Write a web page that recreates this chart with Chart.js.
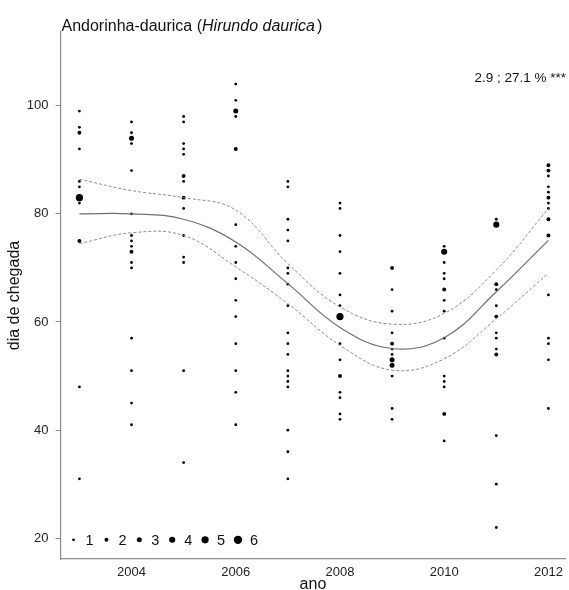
<!DOCTYPE html>
<html>
<head>
<meta charset="utf-8">
<script src="https://cdn.jsdelivr.net/npm/chart.js@4"></script>
<style>
  html, body { margin: 0; padding: 0; background: #fff; overflow: hidden; }
  canvas { display: block; }
</style>
</head>
<body>
<canvas id="c" width="569" height="590"></canvas>
<script>
// ---- data ----
const years = [2003, 2004, 2005, 2006, 2007, 2008, 2009, 2010, 2011, 2012];

const days2003 = [99, 96, 95, 92, 86, 85, 83, 82, 75, 48, 31];
const n2003    = [1, 1, 2, 1, 1, 1, 5, 1, 2, 1, 1];
const days2004 = [97, 95, 94, 93, 88, 80, 76, 75, 74, 73, 71, 70, 57, 51, 45, 41];
const n2004    = [1, 1, 3, 1, 1, 1, 1, 1, 1, 2, 1, 1, 1, 1, 1, 1];
const days2005 = [98, 97, 93, 92, 91, 87, 86, 83, 81, 76, 72, 71, 51, 34];
const n2005    = [1, 1, 1, 1, 1, 2, 1, 2, 1, 1, 1, 1, 1, 1];
const days2006 = [104, 101, 99, 98, 92, 78, 74, 71, 68, 64, 61, 56, 51, 47, 41];
const n2006    = [1, 1, 3, 1, 2, 1, 1, 1, 1, 1, 1, 1, 1, 1, 1];
const days2007 = [86, 85, 79, 77, 75, 70, 69, 67, 63, 58, 56, 54, 51, 50, 49, 48, 40, 36, 31];
const n2007    = [1, 1, 1, 1, 1, 1, 1, 1, 1, 1, 1, 1, 1, 1, 1, 1, 1, 1, 1];
const days2008 = [82, 81, 76, 73, 69, 65, 63, 61, 56, 53, 50, 47, 46, 43, 42];
const n2008    = [1, 1, 1, 1, 1, 1, 1, 5, 1, 1, 2, 1, 1, 1, 1];
const days2009 = [70, 66, 62, 58, 56, 55, 54, 53, 52, 50, 44, 42];
const n2009    = [2, 1, 1, 1, 2, 1, 1, 3, 3, 1, 1, 1];
const days2010 = [74, 73, 71, 69, 68, 66, 64, 62, 57, 50, 49, 48, 43, 38];
const n2010    = [1, 4, 1, 1, 1, 2, 1, 1, 1, 1, 1, 1, 2, 1];
const days2011 = [79, 78, 67, 66, 63, 61, 58, 57, 55, 54, 39, 30, 22];
const n2011    = [1, 4, 2, 1, 1, 2, 1, 1, 1, 2, 1, 1, 1];
const days2012 = [89, 88, 87, 85, 84, 83, 82, 81, 79, 76, 65, 57, 56, 53, 44];
const n2012    = [2, 2, 1, 1, 1, 2, 1, 1, 2, 2, 1, 1, 1, 1, 1];

const fitMid   = [80.0, 80.0, 79.0, 74.8, 67.1, 59.0, 55.1, 57.1, 65.6, 75.1];
const fitUpper = [86.4, 84.3, 83.0, 80.7, 70.8, 62.8, 59.6, 61.6, 69.6, 81.0];
const fitLower = [74.5, 76.5, 76.0, 70.2, 63.4, 55.7, 51.1, 53.2, 60.6, 69.0];

const xTickYears = [2004, 2006, 2008, 2010, 2012];
const yTickValues = [20, 40, 60, 80, 100];
const legendSizes = [1, 2, 3, 4, 5, 6];

const titlePlain = 'Andorinha-daurica (';
const titleItalic = 'Hirundo daurica';
const titleEnd = ')';
const statText = '2.9 ; 27.1 % ***';
const xTitle = 'ano';
const yTitle = 'dia de chegada';

// ---- build ----
const dayLists = [days2003, days2004, days2005, days2006, days2007, days2008, days2009, days2010, days2011, days2012];
const nLists   = [n2003, n2004, n2005, n2006, n2007, n2008, n2009, n2010, n2011, n2012];
const obs = [];
years.forEach((yr, i) => {
  dayLists[i].forEach((d, j) => obs.push({ x: yr, y: d, n: nLists[i][j] }));
});
const radiusFor = n => 0.85 + 0.55 * n;

const FONT = "'Liberation Sans', Arial, sans-serif";
const AXIS_GREY = '#8c8c8c';

const decorPlugin = {
  id: 'decor',
  afterDraw(chart) {
    const ctx = chart.ctx;
    const area = chart.chartArea;
    ctx.save();
    // title
    ctx.fillStyle = '#111';
    ctx.textBaseline = 'alphabetic';
    ctx.textAlign = 'left';
    let tx = area.left + 1;
    const ty = 30.5;
    ctx.font = '16px ' + FONT;
    ctx.fillText(titlePlain, tx, ty);
    tx += ctx.measureText(titlePlain).width;
    ctx.font = 'italic 16px ' + FONT;
    ctx.fillText(titleItalic, tx, ty);
    tx += ctx.measureText(titleItalic).width + 2;
    ctx.font = '16px ' + FONT;
    ctx.fillText(titleEnd, tx, ty);
    // stat annotation
    ctx.font = '13.5px ' + FONT;
    ctx.textAlign = 'right';
    ctx.textBaseline = 'middle';
    ctx.fillText(statText, chart.width - 3, 78);
    // size legend
    const lx0 = area.left + 13;
    const ly = chart.scales.y.getPixelForValue(20) + 1.5;
    ctx.textAlign = 'left';
    ctx.font = '14.5px ' + FONT;
    legendSizes.forEach((s, i) => {
      const cx = lx0 + i * 32.9;
      ctx.beginPath();
      ctx.fillStyle = '#000';
      ctx.arc(cx, ly, radiusFor(s), 0, Math.PI * 2);
      ctx.fill();
      ctx.fillStyle = '#111';
      ctx.fillText(String(s), cx + 12, ly + 1);
    });
    ctx.restore();
  }
};

new Chart(document.getElementById('c'), {
  type: 'scatter',
  data: {
    datasets: [
      {
        label: 'upper',
        type: 'line',
        data: years.map((x, i) => ({ x, y: fitUpper[i] })),
        borderColor: '#8a8a8a',
        borderWidth: 1,
        borderDash: [3, 2],
        pointRadius: 0,
        tension: 0.4,
        fill: false
      },
      {
        label: 'lower',
        type: 'line',
        data: years.map((x, i) => ({ x, y: fitLower[i] })),
        borderColor: '#8a8a8a',
        borderWidth: 1,
        borderDash: [3, 2],
        pointRadius: 0,
        tension: 0.4,
        fill: false
      },
      {
        label: 'fit',
        type: 'line',
        data: years.map((x, i) => ({ x, y: fitMid[i] })),
        borderColor: '#6e6e6e',
        borderWidth: 1.2,
        pointRadius: 0,
        tension: 0.4,
        fill: false
      },
      {
        label: 'obs',
        data: obs,
        backgroundColor: '#000',
        borderWidth: 0,
        pointRadius: ctx => radiusFor(ctx.raw ? ctx.raw.n : 1),
        pointHoverRadius: ctx => radiusFor(ctx.raw ? ctx.raw.n : 1)
      }
    ]
  },
  options: {
    responsive: false,
    animation: false,
    devicePixelRatio: 1,
    layout: { padding: { left: 0, right: 1, top: 32, bottom: 0 } },
    plugins: { legend: { display: false }, tooltip: { enabled: false } },
    scales: {
      x: {
        type: 'linear',
        min: 2002.637,
        max: 2012.326,
        afterBuildTicks: s => { s.ticks = xTickYears.map(v => ({ value: v })); },
        afterFit: s => { s.height = 31; },
        grid: { display: false, drawTicks: false },
        border: { display: true, color: AXIS_GREY, width: 1.2 },
        ticks: {
          color: '#222',
          font: { family: FONT, size: 13 },
          padding: 6,
          maxRotation: 0,
          autoSkip: false,
          callback: v => String(v)
        },
        title: {
          display: true,
          text: xTitle,
          color: '#111',
          font: { family: FONT, size: 16 },
          padding: { top: 0, bottom: -4 }
        }
      },
      y: {
        type: 'linear',
        min: 16.17,
        max: 113.63,
        afterBuildTicks: s => { s.ticks = yTickValues.map(v => ({ value: v })); },
        afterFit: s => { s.width = 60.5; },
        grid: { display: true, drawOnChartArea: false, drawTicks: true, tickLength: 5, color: AXIS_GREY, lineWidth: 1 },
        border: { display: true, color: AXIS_GREY, width: 1.2 },
        ticks: {
          color: '#222',
          font: { family: FONT, size: 13 },
          padding: 7,
          callback: v => String(v)
        },
        title: {
          display: true,
          text: yTitle,
          color: '#111',
          font: { family: FONT, size: 16 },
          padding: { top: 5, bottom: 0 }
        }
      }
    }
  },
  plugins: [decorPlugin]
});
</script>
</body>
</html>
